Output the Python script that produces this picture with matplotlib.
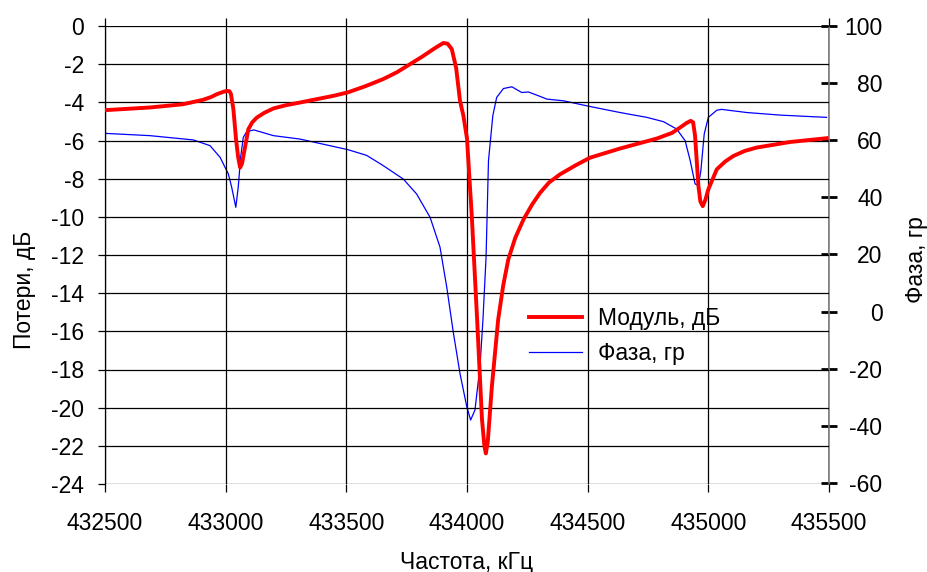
import numpy as np
import matplotlib
matplotlib.use("Agg")
import matplotlib.pyplot as plt

plt.rcParams['font.family'] = ['Liberation Sans', 'DejaVu Sans']

# частота, кГц и модуль, дБ
freq_mod = [432500, 432686, 432823, 432906, 432940, 432964, 432990, 433006, 433016,
            433022, 433032, 433043, 433052, 433060, 433068, 433076, 433094, 433110,
            433129, 433160, 433198, 433250, 433308, 433446, 433506, 433580, 433653,
            433710, 433764, 433815, 433861, 433885, 433902, 433920, 433937, 433955,
            433971, 433985, 434000, 434020, 434042, 434062, 434072, 434078, 434086,
            434103, 434129, 434150, 434171, 434200, 434234, 434270, 434303, 434340,
            434386, 434450, 434510, 434634, 434786, 434850, 434883, 434910, 434927,
            434937, 434945, 434959, 434967, 434977, 434988, 435000, 435035, 435070,
            435104, 435150, 435200, 435338, 435490]
mod_db = [-4.41, -4.27, -4.10, -3.87, -3.72, -3.57, -3.45, -3.40, -3.42,
          -3.57, -4.36, -5.94, -6.9, -7.42, -7.2, -6.64, -5.41, -5.05,
          -4.80, -4.55, -4.32, -4.15, -4.01, -3.66, -3.48, -3.15, -2.78,
          -2.42, -2.00, -1.60, -1.21, -1.02, -0.89, -0.93, -1.21, -2.2,
          -3.92, -4.7, -5.9, -10.0, -15.4, -20.6, -22.0, -22.4, -21.8,
          -18.9, -15.4, -13.6, -12.24, -11.1, -10.14, -9.35, -8.74, -8.2,
          -7.77, -7.3, -6.90, -6.42, -5.90, -5.6, -5.32, -5.08, -4.97,
          -5.05, -5.76, -8.39, -9.2, -9.44, -9.1, -8.56, -7.51, -7.1,
          -6.81, -6.55, -6.37, -6.08, -5.88]

# частота, кГц и фаза, градусы
freq_ph = [432500, 432686, 432866, 432935, 432977, 433011, 433025, 433042, 433052,
           433062, 433073, 433087, 433117, 433198, 433308, 433506, 433584, 433653,
           433736, 433791, 433847, 433888, 433916, 433944, 433971, 433999, 434015,
           434033, 434054, 434066, 434079, 434089, 434107, 434123, 434151, 434186,
           434227, 434254, 434289, 434331, 434400, 434510, 434634, 434745, 434814,
           434869, 434904, 434925, 434945, 434959, 434969, 434983, 435000, 435035,
           435055, 435159, 435297, 435490]
phase = [62.4, 61.6, 60.1, 58.1, 54.0, 48.2, 43.5, 36.5, 43.5,
         54.0, 61.0, 63.0, 63.6, 61.6, 60.4, 56.7, 54.7, 51.1,
         46.4, 41.2, 33.0, 22.6, 8.6, -7.7, -21.7, -33.3, -38.0,
         -34.5, -19.0, -3.0, 19.1, 52.8, 68.6, 75.0, 78.1, 78.7,
         76.7, 76.9, 75.8, 74.4, 73.8, 71.8, 69.7, 68.0, 66.5,
         63.9, 59.8, 52.8, 44.7, 44.1, 49.3, 62.2, 68.0, 70.5,
         70.8, 69.7, 68.8, 68.0]

x_ticks = [432500, 433000, 433500, 434000, 434500, 435000, 435500]
left_ticks = list(range(0, -25, -2))
right_ticks = list(range(100, -61, -20))

fs = 16.5
fig = plt.figure(figsize=(9.27, 5.72), dpi=100)
ax = fig.add_axes([105 / 927, 1 - 484 / 572, 724 / 927, 458 / 572])
ax2 = ax.twinx()

l1, = ax.plot(freq_mod, mod_db, color='#ff0000', lw=2.8, label='Модуль, дБ',
              zorder=3, solid_joinstyle='round')
l2, = ax2.plot(freq_ph, phase, color='#0000ff', lw=0.9, label='Фаза, гр')

ax.set_zorder(ax2.get_zorder() + 1)
ax.patch.set_visible(False)

ax.set_xlim(432500, 435500)
ax.set_ylim(-24, 0)
ax2.set_ylim(-60.4, 99.4)

ax.set_xticks(x_ticks)
ax.set_xticklabels([str(v) for v in x_ticks], fontsize=fs)
ax.set_yticks(left_ticks)
ax.set_yticklabels([str(v) for v in left_ticks], fontsize=fs)
ax2.set_yticks(right_ticks)
ax2.set_yticklabels([str(v) for v in right_ticks], fontsize=fs, ha='right')

ax.grid(True, color='k', lw=0.9)
ax.tick_params(axis='x', direction='out', length=6, width=0.9, top=True, pad=14)
ax.tick_params(axis='y', direction='out', length=5, width=0.9, pad=10)
ax2.tick_params(axis='y', direction='inout', length=11, width=2, pad=33)

for s in ['top', 'bottom', 'right']:
    ax.spines[s].set_visible(False)
ax.spines['left'].set_linewidth(0.9)
for s in ['top', 'bottom', 'left']:
    ax2.spines[s].set_visible(False)
ax2.spines['right'].set_color('#808080')
ax2.spines['right'].set_linewidth(1.2)

fig.text(25 / 927, 1 - 290 / 572, 'Потери, дБ', rotation=90, ha='center', va='center', fontsize=fs)
fig.text(917 / 927, 1 - 260 / 572, 'Фаза, гр', rotation=90, ha='center', va='center', fontsize=fs)
fig.text(467 / 927, 1 - 562 / 572, 'Частота, кГц', ha='center', va='center', fontsize=fs)

ax.legend(handles=[l1, l2], loc='center left', bbox_to_anchor=(529 / 927, 1 - 336 / 572),
          bbox_transform=fig.transFigure, frameon=False, fontsize=fs, borderpad=0,
          borderaxespad=0, handlelength=2.3, handletextpad=0.7, labelspacing=0.55)

fig.savefig('out.png', dpi=100)
